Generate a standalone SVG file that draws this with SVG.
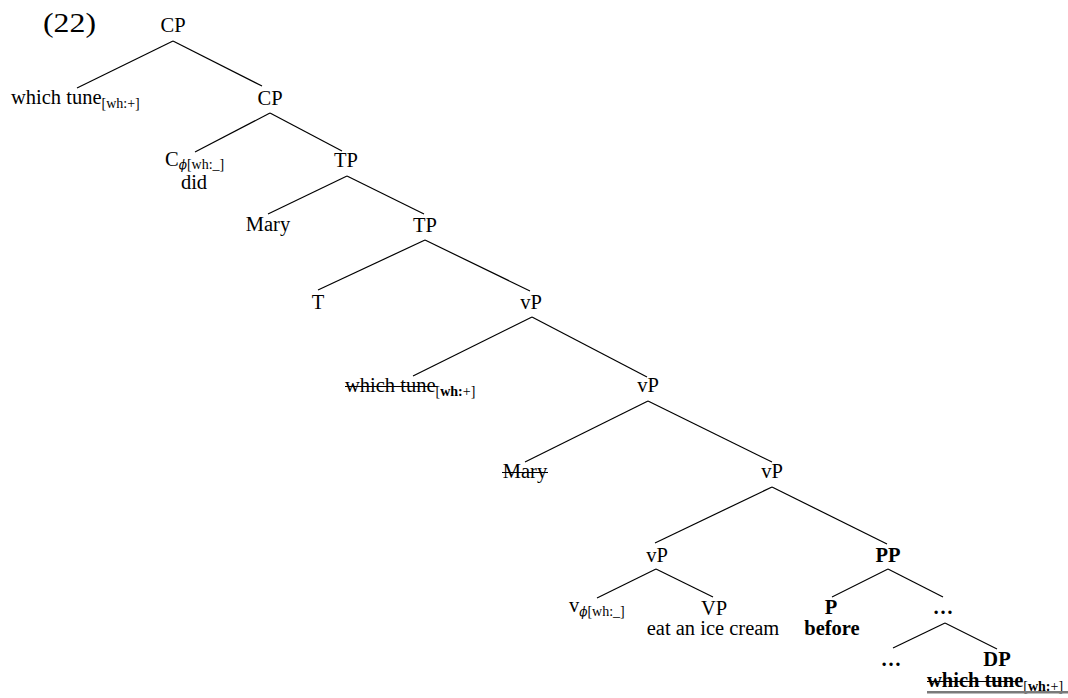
<svg xmlns="http://www.w3.org/2000/svg" width="1068" height="698" viewBox="0 0 1068 698">
<style>
text{font-family:"Liberation Serif","DejaVu Serif",serif;font-size:20.5px;fill:#000}
.m{text-anchor:middle}
.b{font-weight:bold}
.sub{font-size:14px}
.phi{font-style:italic;font-family:"DejaVu Serif","Liberation Serif",serif;font-size:12px}
.edge line{stroke:#000;stroke-width:1.2}
.strike{stroke:#000;stroke-width:1.2}
</style>
<rect width="1068" height="698" fill="#fff"/>
<text x="43" y="32" textLength="53" lengthAdjust="spacingAndGlyphs" style="font-size:27px">(22)</text>
<g id="connectors" class="edge">
<line x1="173" y1="41" x2="77" y2="88"/>
<line x1="173" y1="41" x2="262" y2="86"/>
<line x1="270" y1="113" x2="195" y2="152"/>
<line x1="270" y1="113" x2="342" y2="151"/>
<line x1="347" y1="176" x2="268" y2="214"/>
<line x1="347" y1="176" x2="424" y2="214"/>
<line x1="425" y1="240" x2="318" y2="290"/>
<line x1="425" y1="240" x2="530" y2="291"/>
<line x1="532" y1="317" x2="413" y2="376"/>
<line x1="532" y1="317" x2="647" y2="377"/>
<line x1="648" y1="401" x2="525" y2="462"/>
<line x1="648" y1="401" x2="772" y2="462"/>
<line x1="772" y1="487" x2="655" y2="543"/>
<line x1="772" y1="487" x2="887" y2="544"/>
<line x1="656" y1="569" x2="597" y2="598"/>
<line x1="656" y1="569" x2="713" y2="597"/>
<line x1="888" y1="569" x2="832" y2="597"/>
<line x1="888" y1="569" x2="943" y2="597"/>
<line x1="945" y1="623" x2="893" y2="648"/>
<line x1="945" y1="623" x2="997" y2="649"/>
</g>
<g id="n-cp1"><text class="m" x="173" y="32">CP</text></g>
<g id="n-whichtune1"><text x="11" y="104">which tune<tspan class="sub" dy="4">[wh:+]</tspan></text></g>
<g id="n-cp2"><text class="m" x="270" y="105">CP</text></g>
<g id="n-c"><text x="165" y="166">C<tspan class="phi" dy="3">ϕ</tspan><tspan class="sub">[wh:_]</tspan></text><text class="m" x="194" y="189">did</text></g>
<g id="n-tp1"><text class="m" x="346" y="167">TP</text></g>
<g id="n-mary1"><text class="m" x="268" y="231">Mary</text></g>
<g id="n-tp2"><text class="m" x="425" y="232">TP</text></g>
<g id="n-t"><text class="m" x="318" y="309">T</text></g>
<g id="n-vp1"><text class="m" x="531" y="309">vP</text></g>
<g id="n-whichtune2"><text x="345" y="392">which tune<tspan class="sub" dy="4">[<tspan class="b">wh:</tspan>+]</tspan></text><line class="strike" x1="345" y1="386.5" x2="437" y2="386.5"/></g>
<g id="n-vp2"><text class="m" x="648" y="392">vP</text></g>
<g id="n-mary2"><text class="m" x="525" y="478">Mary</text><line class="strike" x1="502" y1="472.5" x2="548" y2="472.5"/></g>
<g id="n-vp3"><text class="m" x="772" y="478">vP</text></g>
<g id="n-vp4"><text class="m" x="657" y="562">vP</text></g>
<g id="n-pp"><text class="m b" x="888" y="562">PP</text></g>
<g id="n-v"><text x="569" y="612">v<tspan class="phi" dy="4">ϕ</tspan><tspan class="sub">[wh:_]</tspan></text></g>
<g id="n-vp"><text class="m" x="714" y="615">VP</text><text class="m" x="713" y="635">eat an ice cream</text></g>
<g id="n-p"><text class="m b" x="831" y="614">P</text><text class="m b" x="832" y="635">before</text></g>
<g id="n-dots1"><text class="m b" x="943" y="614">…</text></g>
<g id="n-dots2"><text class="m b" x="891" y="666">…</text></g>
<g id="n-dp"><text class="m b" x="997" y="666">DP</text><text class="b" x="927" y="687">which tune<tspan class="sub" dy="4" style="font-weight:normal">[<tspan class="b">wh:</tspan>+]</tspan></text><line class="strike" x1="927" y1="681.5" x2="1022" y2="681.5"/><rect x="927" y="691" width="141" height="2.5" fill="#7a7a7a"/></g>
</svg>
